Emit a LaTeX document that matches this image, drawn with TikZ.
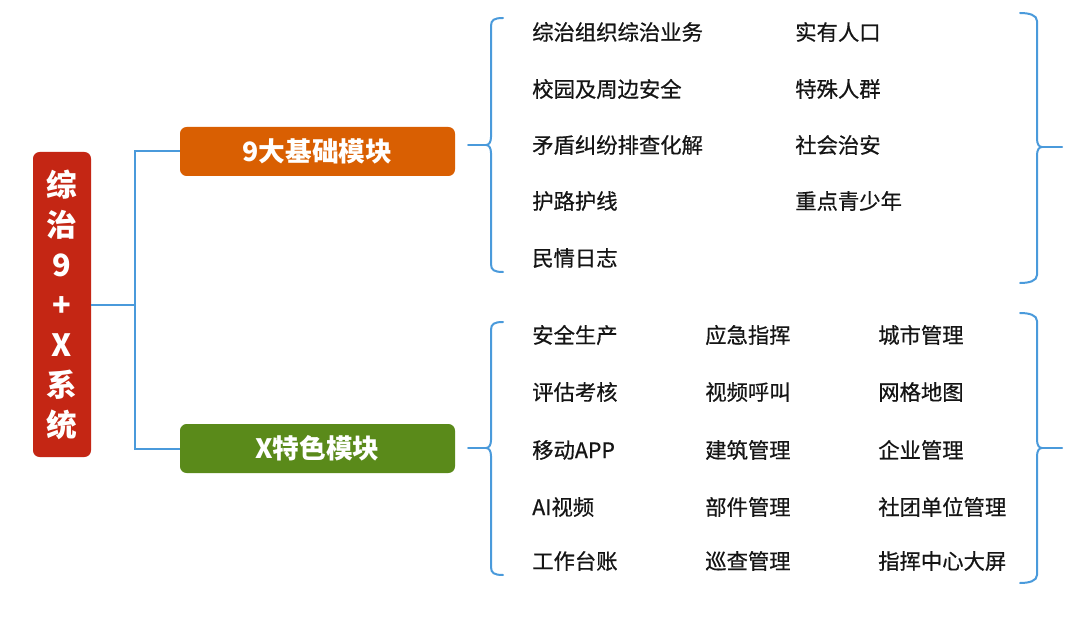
\documentclass[tikz,border=0pt]{standalone}
\usepackage{fontspec}
\setmainfont{Noto Sans CJK SC}
\newfontfamily\itemfont[FakeBold=0.6]{Noto Sans CJK SC}
\definecolor{rootred}{HTML}{C42614}
\definecolor{boxorange}{HTML}{D95F02}
\definecolor{boxgreen}{HTML}{5A8A1A}
\definecolor{lineblue}{HTML}{4A9ADB}
\definecolor{itemtext}{HTML}{151515}
\newcommand\mybraceleft[3]{%
  \draw[brace] (503,#1) .. controls +(-9,0) and +(0,-6) .. (491,{#1+8}) -- (491,{#2-8})
    .. controls +(0,5) and +(3,0) .. (486,#2) .. controls +(3,0) and +(0,-5) .. (491,{#2+8})
    -- (491,{#3-8}) .. controls +(0,6) and +(-9,0) .. (503,#3);
  \draw[brace] (486,#2) -- (468,#2);}
\newcommand\mybraceright[3]{%
  \draw[brace] (1020,#1) .. controls +(9,0) and +(0,-6) .. (1037,{#1+8}) -- (1037,{#2-8})
    .. controls +(0,5) and +(-3,0) .. (1042,#2) .. controls +(-3,0) and +(0,-5) .. (1037,{#2+8})
    -- (1037,{#3-8}) .. controls +(0,6) and +(9,0) .. (1020,#3);
  \draw[brace] (1042,#2) -- (1062,#2);}
\tikzset{
  brace/.style={draw=lineblue, line width=1.5pt, line cap=round},
  conn/.style={draw=lineblue, line width=1.5pt},
  rootbox/.style={fill=rootred, rounded corners=5pt, text=white, align=center,
    minimum width=43.5pt, minimum height=228.75pt, inner sep=0pt,
    font=\fontsize{23}{30}\selectfont\bfseries},
  modbox/.style={rounded corners=5pt, text=white, minimum width=206.25pt,
    minimum height=36.75pt, inner sep=0pt, font=\fontsize{20}{24}\selectfont\bfseries},
  item/.style={anchor=west, inner sep=0pt, text=itemtext, font=\itemfont\fontsize{16}{19}\selectfont}
}
\begin{document}
\begin{tikzpicture}[x=0.75pt, y=-0.75pt]
\useasboundingbox (0,0) rectangle (1080,620);
\fill[white] (0,0) rectangle (1080,620);
\node[rootbox] (root) at (62,304.5) {综\\治\\9\\+\\X\\系\\统};
\node[modbox, fill=boxorange] (b9) at (317.5,151.5) {9大基础模块};
\node[modbox, fill=boxgreen] (bx) at (317.5,448.5) {X特色模块};
\draw[conn] (root.east) -- ++(44,0) |- (b9.west);
\draw[conn] (root.east) -- ++(44,0) |- (bx.west);
\mybraceleft{18}{145}{272}
\mybraceright{13}{147}{283}
\mybraceleft{322}{448}{575}
\mybraceright{313}{448}{583}
% top group
\node[item] (t1) at (532,32) {综治组织综治业务};
\node[item] (t2) at (532,89) {校园及周边安全};
\node[item] (t3) at (532,145) {矛盾纠纷排查化解};
\node[item] (t4) at (532,201) {护路护线};
\node[item] (t5) at (532,258) {民情日志};
\node[item] (t6) at (795,32) {实有人口};
\node[item] (t7) at (795,89) {特殊人群};
\node[item] (t8) at (795,145) {社会治安};
\node[item] (t9) at (795,201) {重点青少年};
% bottom group
\node[item] (x1) at (532,335) {安全生产};
\node[item] (x2) at (532,392) {评估考核};
\node[item] (x3) at (532,450) {移动APP};
\node[item] (x4) at (532,507) {AI视频};
\node[item] (x5) at (532,561) {工作台账};
\node[item] (x6) at (705,335) {应急指挥};
\node[item] (x7) at (705,392) {视频呼叫};
\node[item] (x8) at (705,450) {建筑管理};
\node[item] (x9) at (705,507) {部件管理};
\node[item] (x10) at (705,561) {巡查管理};
\node[item] (x11) at (878,335) {城市管理};
\node[item] (x12) at (878,392) {网格地图};
\node[item] (x13) at (878,450) {企业管理};
\node[item] (x14) at (878,507) {社团单位管理};
\node[item] (x15) at (878,561) {指挥中心大屏};
\end{tikzpicture}
\end{document}
